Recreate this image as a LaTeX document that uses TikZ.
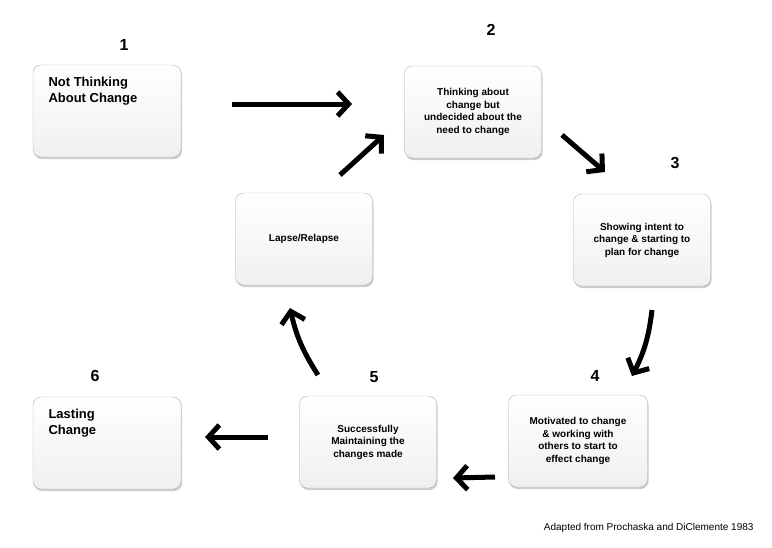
\documentclass[tikz,border=0pt]{standalone}
\usepackage{fontspec}
\setmainfont{Liberation Sans}
\usetikzlibrary{shadows,arrows.meta}
\tikzset{
  stage/.style={draw=gray!60, rounded corners=8pt, top color=white, bottom color=gray!12,
    drop shadow={shadow xshift=1pt, shadow yshift=-2pt, opacity=.4},
    minimum width=137pt, minimum height=92pt, align=center, font=\bfseries\fontsize{10}{12.5}\selectfont},
  num/.style={font=\bfseries\fontsize{16}{18}\selectfont},
  move/.style={line width=5pt, -{Straight Barb[length=11pt,width=24pt,line width=5pt]}}
}
\begin{document}
\begin{tikzpicture}[x=1pt,y=-1pt]
\useasboundingbox (0,0) rectangle (772,547);
\node[stage, minimum width=148pt] (s1) at (107,111) {};
\node[anchor=north west, align=left, font=\bfseries\fontsize{13}{15.5}\selectfont] at (45,74) {Not Thinking\\About Change};
\node[stage] (s2) at (473,112) {Thinking about\\change but\\undecided about the\\need to change};
\node[stage] (s3) at (642,240) {Showing intent to\\change \& starting to\\plan for change};
\node[stage, minimum width=139pt] (s4) at (578,441) {Motivated to change\\\& working with\\others to start to\\effect change};
\node[stage] (s5) at (368,442) {Successfully\\Maintaining the\\changes made};
\node[stage, minimum width=148pt] (s6) at (107,443) {};
\node[anchor=north west, align=left, font=\bfseries\fontsize{13}{15.5}\selectfont] at (45,406) {Lasting\\Change};
\node[stage] (lr) at (304,239) {Lapse/Relapse};
% numbers
\node[num] (n1) at (124,45) {1};
\node[num] (n2) at (491,30) {2};
\node[num] (n3) at (675,163) {3};
\node[num] (n4) at (595,376) {4};
\node[num] (n5) at (374,377) {5};
\node[num] (n6) at (95,376) {6};
% arrows
\coordinate (a1) at (232,104); \coordinate (b1) at (352,104);
\coordinate (a2) at (562,135); \coordinate (b2) at (605,172);
\coordinate (a3) at (652,310); \coordinate (b3) at (632,376);
\coordinate (a4) at (495,477); \coordinate (b4) at (453,478);
\coordinate (a5) at (268,437); \coordinate (b5) at (205,437);
\coordinate (a6) at (318,375); \coordinate (b6) at (290,308);
\coordinate (a7) at (340,175); \coordinate (b7) at (384,135);
\draw[move] (a1) -- (b1);
\draw[move] (a2) -- (b2);
\draw[move] (a3) to[bend left=10] (b3);
\draw[move] (a4) -- (b4);
\draw[move] (a5) -- (b5);
\draw[move] (a6) to[bend left=10] (b6);
\draw[move] (a7) -- (b7);
\node[anchor=east, font=\fontsize{10}{12}\selectfont] (src) at (757,528) {Adapted from Prochaska and DiClemente 1983};
\end{tikzpicture}
\end{document}
